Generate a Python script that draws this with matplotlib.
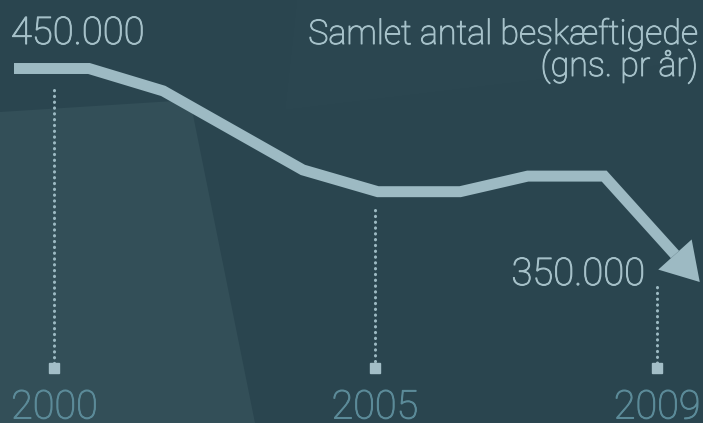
import numpy as np
import matplotlib
matplotlib.use("Agg")
import matplotlib.pyplot as plt
import matplotlib.patheffects as pe
from matplotlib.patches import Polygon
from matplotlib.transforms import blended_transform_factory

# ---- data ----
# horizontal position of each vertex (step units along the time axis)
positions = [0.0, 1.02, 2.03, 2.98, 3.93, 4.95, 6.07, 6.99, 8.03, 9.33]
# employed persons, thousands
employed = [450.0, 450.0, 439.5, 421.0, 402.5, 392.3, 392.3, 399.6, 399.6, 350.0]

year_labels = ["2000", "2005", "2009"]
year_positions = [0.55, 4.91, 8.75]
guide_top = [439.9, 383.7, 347.7]   # where the dotted guides start
guide_bottom = 309.7                # marker level

start_label = "450.000"
end_label = "350.000"
title_line1 = "Samlet antal beskæftigede"
title_line2 = "(gns. pr år)"

# ---- styles ----
BG = "#2a454f"
BG_LIGHT = "#334f58"
LINE = "#9dbac3"
TEXT = "#a6c1c9"
YEAR = "#5c8b99"
FONT = ["Roboto", "DejaVu Sans"]

W, H, DPI = 703, 423, 100
fig = plt.figure(figsize=(W / DPI, H / DPI), dpi=DPI, facecolor=BG)

# background facets
bg_ax = fig.add_axes([0, 0, 1, 1])
bg_ax.set_xlim(0, W)
bg_ax.set_ylim(H, 0)
bg_ax.axis("off")
bg_ax.add_patch(Polygon([(0, 0), (703, 0), (703, 423), (0, 423)], closed=True, fc=BG, ec="none"))
bg_ax.add_patch(Polygon([(0, 112), (190, 100), (255, 423), (0, 423)], closed=True, fc=BG_LIGHT, ec="none"))
bg_ax.add_patch(Polygon([(297, 0), (703, 0), (703, 60), (285, 110)], closed=True, fc="#2b4650", ec="none"))

ax = fig.add_axes([0, 0, 1, 1])
ax.patch.set_alpha(0)
ax.axis("off")
step_px = 73.5
x0_px = 14
ax.set_xlim(-x0_px / step_px, (W - x0_px) / step_px)
val_per_px = 100.0 / 213.5
ax.set_ylim(450 - (H - 68.5) * val_per_px, 450 + 68.5 * val_per_px)

x = np.array(positions)
y = np.array(employed)

# arrow head in display space
trans = ax.transData
p_prev = trans.transform((x[-2], y[-2]))
p_tip = trans.transform((x[-1], y[-1]))
d = p_tip - p_prev
u = d / np.hypot(*d)
n = np.array([-u[1], u[0]])
head_len, head_w = 37.0, 45.0
base = p_tip - u * head_len
w1 = base + n * head_w / 2
w2 = base - n * head_w / 2
inv = trans.inverted()
base_d = inv.transform(base)

line_x = np.concatenate([x[:-1], [base_d[0]]])
line_y = np.concatenate([y[:-1], [base_d[1]]])
ax.plot(line_x, line_y, color=LINE, lw=7.9, solid_joinstyle="miter",
        solid_capstyle="butt", zorder=3)
head = Polygon(inv.transform(np.array([p_tip, w1, w2])), closed=True,
               fc=LINE, ec="none", zorder=3)
ax.add_patch(head)

# dotted guides and square markers
for xp, top in zip(year_positions, guide_top):
    ax.plot([xp, xp], [top, guide_bottom + 2.5], color=LINE, lw=2.2,
            linestyle=(0, (0.1, 1.8)), dash_capstyle="round", zorder=2)
ax.plot(year_positions, [guide_bottom] * len(year_positions), "s",
        color="#a3bec7", markersize=7.9, zorder=3)

def fx(color):
    return [pe.withStroke(linewidth=0.7, foreground=color)]

# year labels
bt = blended_transform_factory(ax.transData, ax.transAxes)
for xp, lab in zip(year_positions, year_labels):
    ax.text(xp, 4.5 / H, lab, transform=bt, ha="center", va="baseline",
            fontsize=28.5, color=YEAR, family=FONT, fontweight="light",
            path_effects=fx(YEAR))

# value labels
ax.annotate(start_label, xy=(x[0], y[0]), xytext=(-2.2, 17.6),
            textcoords="offset points", ha="left", va="baseline",
            fontsize=27.5, color=TEXT, family=FONT, fontweight="light",
            path_effects=fx(TEXT))
ax.annotate(end_label, xy=(x[-1], y[-1]), xytext=(-39, -2.2),
            textcoords="offset points", ha="right", va="baseline",
            fontsize=27.5, color=TEXT, family=FONT, fontweight="light",
            path_effects=fx(TEXT))

# title
fig.text(698 / W, 1 - 44 / H, title_line1, ha="right", va="baseline",
         fontsize=24.5, color=TEXT, family=FONT, fontweight="light",
         path_effects=fx(TEXT))
fig.text(698 / W, 1 - 76 / H, title_line2, ha="right", va="baseline",
         fontsize=24.5, color=TEXT, family=FONT, fontweight="light",
         path_effects=fx(TEXT))

fig.savefig("out.png", dpi=DPI, facecolor=BG)
